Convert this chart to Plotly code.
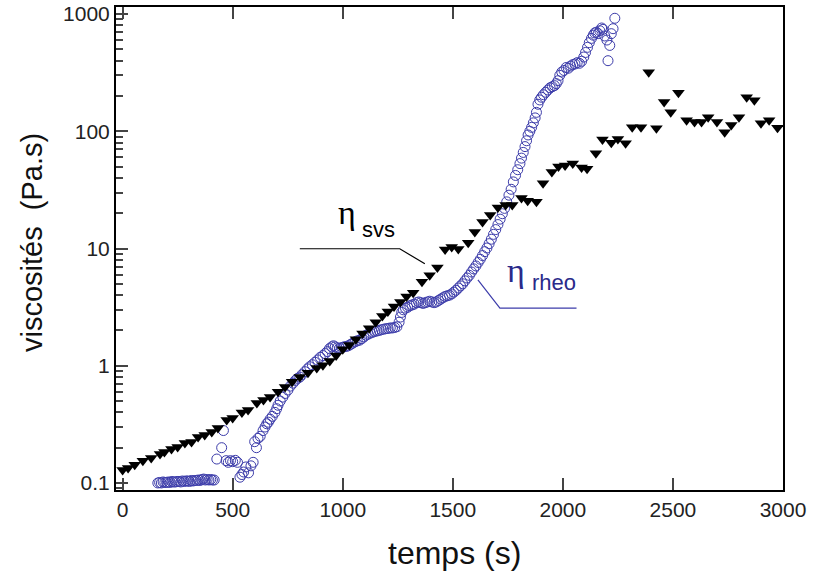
import plotly.graph_objects as go

# eta_svs (black down-triangles)
svs_t = [0, 25, 55, 92, 130, 170, 190, 222, 250, 283, 313, 343, 373, 405, 433, 473, 500, 542, 570,
         610, 640, 670, 706, 738, 770, 805, 842, 882, 910, 941, 970, 1000, 1030, 1060, 1090, 1120,
         1150, 1180, 1205, 1233, 1262, 1290, 1320, 1360, 1395, 1430, 1465, 1495, 1525, 1570, 1600,
         1635, 1670, 1705, 1740, 1770, 1812, 1840, 1880, 1910, 1950, 1980, 2010, 2045, 2085, 2110,
         2150, 2180, 2220, 2250, 2285, 2315, 2355, 2390, 2425, 2460, 2490, 2525, 2562, 2598, 2630,
         2660, 2700, 2735, 2765, 2800, 2835, 2870, 2900, 2937, 2975]
svs_v = [0.129, 0.134, 0.143, 0.155, 0.163, 0.177, 0.184, 0.195, 0.203, 0.219, 0.224, 0.247, 0.257,
         0.272, 0.295, 0.344, 0.358, 0.40, 0.42, 0.48, 0.51, 0.54, 0.60, 0.66, 0.73, 0.80, 0.87,
         0.955, 1.01, 1.10, 1.22, 1.38, 1.50, 1.68, 1.88, 2.09, 2.35, 2.65, 2.9, 3.2, 3.5, 3.9, 4.2,
         5.2, 5.9, 6.9, 9.8, 10.3, 9.9, 11.2, 13.8, 16.8, 19.3, 22.4, 23.5, 23.5, 27, 25.5, 25, 36,
         45, 50, 51, 53, 49, 48, 65, 85, 80, 86, 79, 108, 108, 318, 106, 178, 145, 213, 124, 120,
         120, 132, 120, 98, 113, 132, 195, 184, 117, 124, 107]

# eta_rheo (blue open circles)
rheo_t = [160, 168, 176, 184, 192, 200, 208, 216, 224, 232, 240, 248, 256, 264, 272, 280, 288, 296,
          304, 312, 320, 328, 336, 344, 352, 360, 368, 376, 384, 392, 400, 408, 416,
          428, 450, 458, 470, 480, 490, 500, 512, 522, 533, 542, 550, 560, 572, 583, 593, 600, 608,
          615, 625, 638,
          647, 655, 662, 670, 680, 692, 700, 706, 716, 728, 738, 751, 762, 774, 785, 795, 805, 815,
          828, 840, 850, 862, 874, 886, 898, 910, 920, 930, 940, 950, 958, 966, 975, 986, 996, 1006,
          1016, 1026, 1036, 1046, 1056, 1066, 1076, 1086, 1096, 1106, 1116, 1126, 1136, 1146, 1156,
          1166, 1176, 1186, 1196, 1206, 1216, 1226, 1236, 1246, 1256, 1262, 1268, 1275, 1285, 1295,
          1305, 1315, 1325, 1335, 1345, 1355, 1365, 1375, 1385, 1395, 1405, 1415, 1425, 1435, 1445,
          1455, 1465, 1475, 1485, 1495, 1505, 1515, 1525, 1535, 1545, 1555, 1565, 1575, 1585, 1595,
          1605, 1615, 1625, 1635, 1645, 1655, 1665, 1675, 1685, 1695, 1705, 1715, 1725, 1735, 1745,
          1755, 1765, 1775, 1785, 1795, 1805, 1812, 1820, 1828, 1835, 1842, 1850, 1858, 1866, 1874,
          1880, 1887, 1895, 1903, 1912, 1922, 1932, 1942, 1952, 1962, 1970, 1978, 1986, 1995, 2005,
          2015, 2025, 2035, 2045, 2055, 2065, 2075, 2085, 2095, 2103, 2112, 2120, 2130, 2138, 2145,
          2152, 2160, 2168, 2176, 2182, 2190, 2200, 2205, 2213, 2220, 2228, 2236]
rheo_v = [0.100, 0.101, 0.100, 0.102, 0.101, 0.101, 0.102, 0.101, 0.103, 0.102, 0.102, 0.103, 0.103,
          0.102, 0.104, 0.103, 0.104, 0.104, 0.103, 0.105, 0.104, 0.105, 0.105, 0.106, 0.105, 0.107,
          0.108, 0.106, 0.107, 0.106, 0.107, 0.106, 0.106,
          0.160, 0.20, 0.28, 0.155, 0.150, 0.155, 0.152, 0.156, 0.150, 0.112, 0.118, 0.124, 0.137,
          0.122, 0.140, 0.150, 0.225, 0.20, 0.240, 0.250, 0.280,
          0.30, 0.32, 0.33, 0.35, 0.37, 0.40, 0.43, 0.46, 0.50, 0.54, 0.58, 0.62, 0.67, 0.71, 0.75,
          0.78, 0.80, 0.84, 0.89, 0.94, 0.98, 1.02, 1.07, 1.12, 1.18, 1.22, 1.27, 1.32, 1.40, 1.45,
          1.48, 1.45, 1.42, 1.41, 1.43, 1.45, 1.46, 1.48, 1.52, 1.56, 1.60, 1.63, 1.65, 1.70, 1.76,
          1.82, 1.86, 1.90, 1.93, 1.96, 1.98, 2.00, 2.03, 2.05, 2.07, 2.08, 2.10, 2.10, 2.12, 2.15,
          2.35, 2.6, 2.85, 3.0, 3.1, 3.15, 3.25, 3.3, 3.35, 3.45, 3.5, 3.45, 3.4, 3.45, 3.5, 3.55,
          3.5, 3.45, 3.5, 3.6, 3.7, 3.8, 3.9, 3.95, 4.0, 4.1, 4.25, 4.4, 4.6, 4.8, 5.0, 5.3, 5.6,
          5.9, 6.3, 6.7, 7.1, 7.6, 8.1, 8.7, 9.4, 10.1, 11.0, 12.0, 13.2, 14.5, 16.0, 17.8, 19.8,
          22.0, 25, 28.5, 32, 37, 42, 47, 53, 59, 66, 74, 83, 93, 100, 108, 118, 130, 145, 170, 185,
          195, 205, 215, 225, 235, 240, 245, 255, 270, 300, 320, 330, 350, 345, 360, 370, 375, 385,
          380, 395, 430, 470, 520, 570, 620, 660, 690, 700, 680, 720, 760, 740, 650, 600, 400, 540,
          680, 750, 920]

y_tickvals = [0.1, 1, 10, 100, 1000]
y_ticktext = ["0.1", "1", "10", "100", "1000"]
x_tickvals = [0, 500, 1000, 1500, 2000, 2500, 3000]

# leader lines next to the series labels (data coordinates)
svs_lead_t = [805, 1259, 1373]
svs_lead_v = [9.95, 9.95, 7.4]
rheo_lead_t = [1614, 1714, 2062]
rheo_lead_v = [5.4, 3.1, 3.1]

BLUE = "#3c3caa"
FONT = "Liberation Sans, Arial, sans-serif"

fig = go.Figure()
fig.add_trace(go.Scatter(
    x=rheo_t, y=rheo_v, mode="markers", name="rheo",
    marker=dict(symbol="circle-open", size=10, color=BLUE, line=dict(width=1, color=BLUE)),
))
fig.add_trace(go.Scatter(
    x=svs_t, y=svs_v, mode="markers", name="svs",
    marker=dict(symbol="triangle-down", size=11, color="black"),
))
fig.add_trace(go.Scatter(x=svs_lead_t, y=svs_lead_v, mode="lines",
                         line=dict(color="black", width=1.2), hoverinfo="skip"))
fig.add_trace(go.Scatter(x=rheo_lead_t, y=rheo_lead_v, mode="lines",
                         line=dict(color=BLUE, width=1.2), hoverinfo="skip"))

# series labels (annotation y on log axis is given as log10)
fig.add_annotation(x=1068, y=1.31, text="η", showarrow=False, xanchor="right", yanchor="middle",
                   font=dict(family="Liberation Serif, serif", size=34, color="black"))
fig.add_annotation(x=1077, y=1.16, text="svs", showarrow=False, xanchor="left", yanchor="middle",
                   font=dict(family=FONT, size=22, color="black"))
fig.add_annotation(x=1836, y=0.815, text="η", showarrow=False, xanchor="right", yanchor="middle",
                   font=dict(family="Liberation Serif, serif", size=34, color="#2a2a8a"))
fig.add_annotation(x=1849, y=0.71, text="rheo", showarrow=False, xanchor="left", yanchor="middle",
                   font=dict(family=FONT, size=22, color="#2a2a8a"))

# axis titles
fig.add_annotation(xref="paper", yref="paper", x=-0.127, y=0.512, text="viscosités&nbsp;&nbsp;(Pa.s)",
                   textangle=-90, showarrow=False, xanchor="center", yanchor="middle",
                   font=dict(family=FONT, size=29, color="#111"))
fig.add_annotation(xref="paper", yref="paper", x=0.508, y=-0.130, text="temps (s)",
                   showarrow=False, xanchor="center", yanchor="middle",
                   font=dict(family=FONT, size=32, color="#111"))

fig.update_layout(
    width=814, height=574,
    margin=dict(l=116, r=31, t=7, b=84),
    plot_bgcolor="white", paper_bgcolor="white",
    showlegend=False,
    font=dict(family=FONT, color="#222"),
)
fig.update_xaxes(
    range=[-30, 3000], tickvals=x_tickvals, ticks="inside", ticklen=12, tickwidth=2,
    showline=True, linecolor="black", linewidth=2, mirror="ticks", showgrid=False, zeroline=False,
    tickfont=dict(size=21, color="#222"), automargin=False,
)
fig.update_yaxes(
    type="log", range=[-1.06, 3.06], tickvals=y_tickvals, ticktext=y_ticktext,
    ticks="inside", ticklen=12, tickwidth=2,
    minor=dict(ticks="inside", ticklen=7, tickwidth=2, dtick="D1", showgrid=False),
    showline=True, linecolor="black", linewidth=2, mirror=True, showgrid=False, zeroline=False,
    tickfont=dict(size=21, color="#222"), automargin=False,
)

fig.write_html("out.html", config={"displayModeBar": False},
               post_script="document.body.style.margin='0';document.body.style.overflow='hidden';")
